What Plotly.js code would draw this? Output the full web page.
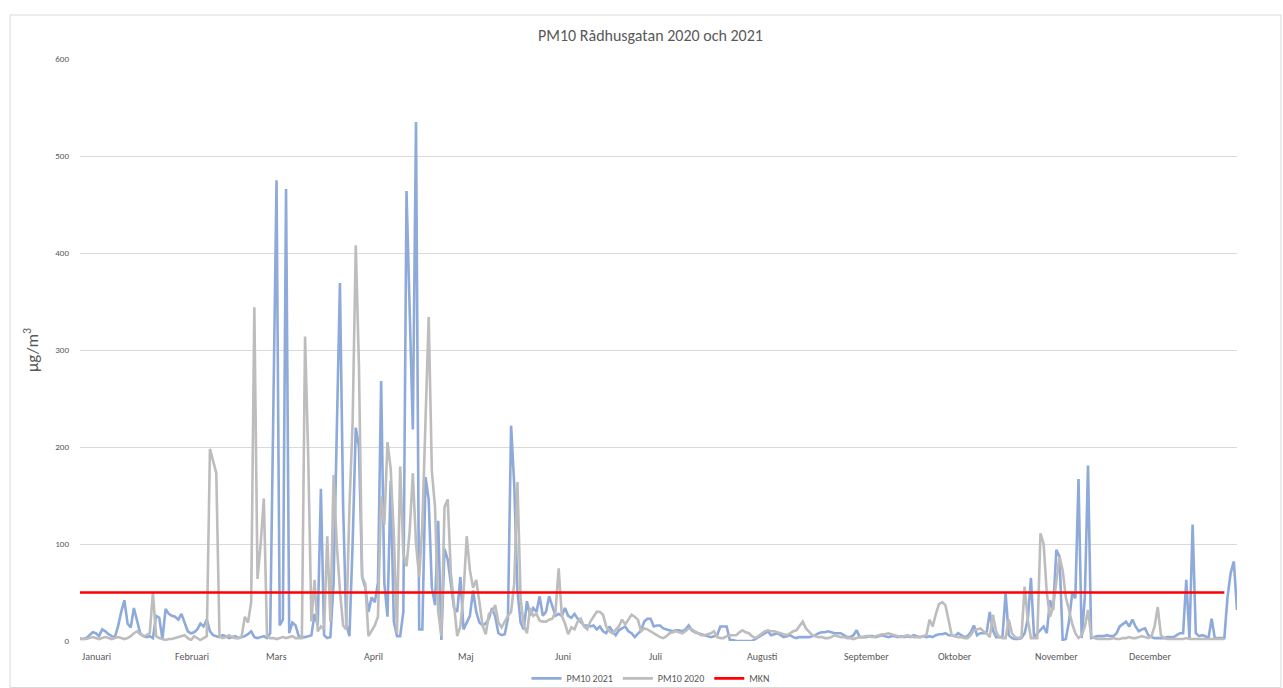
<!DOCTYPE html>
<html>
<head>
<meta charset="utf-8">
<script src="https://cdn.plot.ly/plotly-3.0.1.min.js"></script>
<style>
  html, body { margin: 0; padding: 0; background: #ffffff; }
  #chart { width: 1283px; height: 688px; }
</style>
</head>
<body>
<div id="chart"></div>
<script>
// ---- Data (daily PM10, µg/m³) ----
const monthLabels = ["Januari", "Februari", "Mars", "April", "Maj", "Juni", "Juli", "Augusti", "September", "Oktober", "November", "December"];
const monthStartDays = [0, 31, 60, 91, 121, 152, 182, 213, 244, 274, 305, 335];

const pm10_2021 = [
  2, 2, 3, 6, 9, 8, 5, 12, 10, 7,
  5, 4, 15, 30, 42, 18, 14, 34, 22, 8,
  5, 4, 5, 3, 26, 24, 2, 33, 28, 26,
  25, 22, 28, 18, 10, 8, 9, 12, 18, 15,
  22, 10, 6, 5, 4, 6, 5, 3, 4, 5,
  3, 4, 5, 7, 10, 4, 3, 4, 5, 3,
  8, 240, 475, 16, 22, 466, 8, 19, 16, 5,
  4, 4, 5, 6, 28, 16, 157, 6, 3, 4,
  60, 210, 369, 140, 17, 5, 100, 220, 200, 66,
  55, 30, 45, 40, 60, 268, 60, 25, 165, 20,
  5, 5, 30, 464, 330, 218, 535, 12, 12, 169,
  146, 55, 37, 124, 1, 95, 84, 59, 34, 30,
  66, 12, 20, 26, 52, 30, 19, 16, 18, 23,
  34, 25, 8, 6, 7, 23, 222, 160, 52, 19,
  12, 41, 26, 34, 30, 46, 26, 30, 46, 37,
  26, 28, 26, 34, 26, 24, 28, 23, 20, 16,
  16, 15, 16, 12, 15, 10, 8, 15, 10, 6,
  11, 13, 15, 10, 8, 4, 7, 11, 20, 23,
  23, 15, 16, 16, 13, 12, 11, 10, 11, 11,
  10, 12, 16, 11, 9, 8, 7, 6, 5, 4,
  5, 6, 15, 15, 15, 1, 1, 0, 0, 0,
  0, 0, 0, 2, 4, 6, 8, 10, 6, 7,
  8, 6, 4, 5, 6, 4, 3, 4, 4, 4,
  4, 5, 6, 8, 9, 9, 10, 9, 8, 8,
  8, 6, 4, 4, 6, 11, 4, 4, 4, 5,
  5, 4, 5, 6, 5, 4, 5, 5, 4, 5,
  4, 5, 4, 6, 5, 4, 5, 4, 5, 4,
  6, 7, 7, 8, 6, 6, 5, 8, 6, 4,
  5, 9, 16, 6, 8, 8, 8, 30, 11, 4,
  4, 4, 49, 6, 3, 2, 2, 3, 8, 22,
  65, 3, 8, 12, 15, 8, 42, 32, 94, 87,
  1, 2, 20, 49, 44, 167, 3, 45, 181, 3,
  4, 5, 5, 5, 6, 5, 5, 8, 15, 18,
  20, 15, 22, 15, 10, 12, 13, 6, 4, 3,
  3, 3, 3, 4, 4, 4, 6, 8, 8, 63,
  3, 120, 8, 5, 6, 5, 3, 23, 3, 3,
  3, 3, 45, 70, 82, 32
];

const pm10_2020 = [
  3, 2, 2, 3, 4, 3, 2, 3, 4, 3,
  2, 3, 4, 3, 2, 3, 5, 8, 10, 7,
  5, 6, 8, 50, 5, 3, 2, 1, 2, 2,
  3, 4, 5, 6, 3, 1, 5, 3, 1, 3,
  5, 198, 185, 173, 5, 3, 4, 6, 4, 3,
  3, 5, 25, 19, 40, 344, 64, 100, 147, 5,
  3, 3, 2, 3, 4, 3, 4, 5, 3, 3,
  3, 314, 190, 20, 63, 10, 15, 12, 108, 20,
  171, 100, 52, 16, 12, 138, 225, 408, 283, 66,
  59, 5, 10, 16, 25, 149, 120, 205, 178, 110,
  8, 180, 91, 77, 113, 173, 100, 66, 120, 240,
  334, 175, 138, 30, 5, 138, 146, 70, 37, 5,
  15, 50, 108, 73, 55, 63, 40, 16, 7, 28,
  30, 37, 19, 14, 20, 26, 30, 60, 164, 44,
  16, 8, 34, 26, 28, 21, 20, 20, 22, 23,
  30, 75, 26, 18, 7, 14, 12, 20, 23, 15,
  12, 20, 25, 30, 30, 27, 15, 10, 8, 12,
  15, 22, 17, 22, 27, 25, 22, 10, 13, 12,
  10, 8, 6, 4, 3, 5, 8, 9, 10, 9,
  8, 10, 13, 12, 10, 8, 6, 6, 7, 8,
  10, 4, 3, 3, 5, 6, 6, 6, 9, 11,
  9, 8, 5, 3, 5, 8, 10, 11, 10, 10,
  9, 8, 7, 6, 8, 10, 11, 16, 20, 13,
  9, 6, 5, 4, 4, 3, 3, 4, 6, 5,
  4, 4, 3, 3, 2, 3, 4, 4, 5, 5,
  4, 5, 6, 7, 7, 8, 7, 6, 5, 4,
  5, 6, 5, 4, 4, 4, 5, 6, 22, 15,
  28, 38, 40, 37, 22, 6, 5, 4, 4, 3,
  3, 6, 11, 12, 13, 10, 8, 4, 27, 10,
  4, 3, 3, 22, 8, 4, 3, 4, 56, 22,
  3, 3, 3, 111, 100, 49, 25, 35, 60, 87,
  73, 45, 32, 18, 8, 3, 6, 15, 32, 5,
  3, 2, 2, 2, 2, 2, 3, 2, 2, 3,
  3, 4, 3, 3, 4, 5, 4, 3, 5, 15,
  35, 6, 3, 2, 2, 2, 2, 2, 2, 3,
  2, 2, 2, 2, 2, 2, 2, 2, 2, 2,
  2, 2
];

const mknLimit = 50;

// ---- Build traces ----
const days2021 = pm10_2021.map((_, i) => i);
const days2020 = pm10_2020.map((_, i) => i);
const mknDays = [0, pm10_2020.length - 1];
const mknValues = [mknLimit, mknLimit];

const textColor = "#595959";
const fontFam = "Calibri, Carlito, 'Open Sans', 'Liberation Sans', sans-serif";

const traces = [
  { x: days2021, y: pm10_2021, type: "scatter", mode: "lines", name: "PM10 2021",
    line: { color: "#8eaadb", width: 2.6 }, hoverinfo: "y" },
  { x: days2020, y: pm10_2020, type: "scatter", mode: "lines", name: "PM10 2020",
    line: { color: "#bdbdbd", width: 2.6 }, hoverinfo: "y" },
  { x: mknDays, y: mknValues, type: "scatter", mode: "lines", name: "MKN",
    line: { color: "#ff0000", width: 2.6 }, hoverinfo: "y" }
];

// Month labels placed left-aligned at month starts
const annotations = monthLabels.map((m, i) => ({
  text: m, xref: "x", yref: "paper",
  x: Math.max(0, monthStartDays[i] * 0.99 - 1.2), y: -0.026,
  xanchor: "left", yanchor: "middle", showarrow: false,
  font: { family: fontFam, size: 10, color: textColor }
}));

const layout = {
  width: 1283, height: 688,
  margin: { l: 80, r: 46, t: 59, b: 47 },
  paper_bgcolor: "#ffffff", plot_bgcolor: "#ffffff",
  font: { family: fontFam, color: textColor },
  title: { text: "PM10 Rådhusgatan 2020 och 2021", x: 0.507, xref: "container",
           y: 0.949, yref: "container", yanchor: "middle", xanchor: "center",
           font: { family: fontFam, size: 16, color: textColor } },
  xaxis: { range: [0, 365], showgrid: false, zeroline: false, showline: false,
           showticklabels: false, ticks: "", fixedrange: true },
  yaxis: { range: [0, 600], dtick: 100, tick0: 0, showgrid: true, gridcolor: "#d9d9d9",
           gridwidth: 1, zeroline: false, showline: false, ticks: "",
           ticklabelstandoff: 10,
           tickfont: { family: fontFam, size: 9, color: textColor },
           title: { text: "µg/m<sup>3</sup>", standoff: 12,
                    font: { family: fontFam, size: 17, color: textColor } } },
  showlegend: true,
  legend: { orientation: "h", xref: "container", yref: "container",
            x: 0.507, xanchor: "center", y: 0.014, yanchor: "middle",
            font: { family: fontFam, size: 10, color: textColor },
            bgcolor: "rgba(0,0,0,0)" },
  annotations: annotations,
  shapes: [
    { type: "rect", xref: "paper", yref: "paper",
      x0: -0.0605, x1: 1.038, y0: -0.08, y1: 1.0756,
      line: { color: "#d9d9d9", width: 1 }, fillcolor: "rgba(0,0,0,0)", layer: "below" }
  ]
};

Plotly.newPlot("chart", traces, layout, { displayModeBar: false, staticPlot: true });
</script>
</body>
</html>
